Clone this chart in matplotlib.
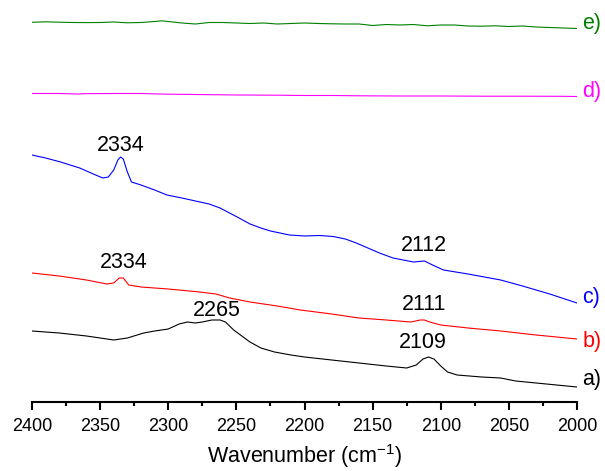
import matplotlib
matplotlib.use("Agg")
import matplotlib.pyplot as plt
from matplotlib.ticker import MultipleLocator

plt.rcParams['font.family'] = ['Liberation Sans', 'DejaVu Sans']
plt.rcParams['mathtext.fontset'] = 'custom'
plt.rcParams['mathtext.rm'] = 'Liberation Sans'
plt.rcParams['mathtext.default'] = 'regular'

# --- data (offset absorbance, arbitrary units) ---
wn_a = [2400, 2380, 2360, 2340, 2330, 2318, 2310, 2300, 2292, 2286, 2280, 2275, 2268, 2262,
        2258, 2252, 2246, 2240, 2232, 2222, 2210, 2200, 2180, 2160, 2140, 2125, 2118, 2113,
        2109, 2105, 2100, 2095, 2088, 2070, 2056, 2045, 2030, 2015, 2000]
abs_a = [71, 69, 66, 62, 64, 69, 71, 73, 78, 80, 79, 80, 82, 82,
         80, 72, 66, 60, 54, 50, 47, 45, 42, 39, 36, 34, 37, 43,
         45, 43, 36, 30, 27, 25, 24, 21, 19, 17, 15]

wn_b = [2400, 2380, 2360, 2345, 2340, 2336, 2333, 2329, 2320, 2300, 2277, 2265, 2255, 2240,
        2220, 2203, 2180, 2160, 2140, 2122, 2115, 2112, 2108, 2100, 2080, 2056, 2030, 2000]
abs_b = [129, 126, 122, 118, 119, 124, 124, 117, 115, 113, 110, 108, 104, 100,
         96, 92, 88, 84, 82, 80, 82, 82, 80, 77, 74, 71, 67, 63]

wn_c = [2400, 2390, 2379, 2365, 2355, 2348, 2344, 2340, 2337, 2335, 2333, 2330, 2327, 2320,
        2310, 2301, 2290, 2280, 2270, 2262, 2255, 2248, 2240, 2232, 2225, 2211, 2200, 2189,
        2179, 2170, 2162, 2145, 2135, 2120, 2112, 2106, 2098, 2080, 2056, 2040, 2020, 2000]
abs_c = [247, 244, 240, 234, 228, 224, 225, 232, 242, 245, 243, 230, 220, 217,
         212, 207, 204, 201, 198, 194, 189, 184, 178, 174, 171, 167, 166, 166.5,
         165.5, 163, 159, 149, 144, 140, 141, 137, 132, 128, 122, 116, 108, 99]

wn_d = [2400, 2380, 2366, 2362, 2350, 2340, 2320, 2300, 2280, 2260, 2250, 2220, 2200, 2180,
        2160, 2130, 2100, 2070, 2040, 2010, 2000]
abs_d = [308.5, 308.5, 308.0, 308.3, 308.4, 308.5, 308.5, 307.8, 307.5, 307.2, 307.0, 306.8,
         306.5, 306.5, 306.2, 306.0, 306.0, 305.8, 305.8, 305.7, 305.5]

wn_e = [2400, 2390, 2380, 2370, 2360, 2350, 2340, 2330, 2320, 2310, 2305, 2300, 2290, 2280,
        2270, 2260, 2250, 2240, 2230, 2220, 2210, 2200, 2190, 2180, 2170, 2160, 2150, 2140,
        2130, 2120, 2110, 2100, 2090, 2080, 2070, 2060, 2050, 2040, 2030, 2020, 2010, 2000]
abs_e = [379.7, 380.2, 379.8, 379.5, 379.4, 379.5, 380.0, 379.2, 379.5, 380.5, 381.2, 380.5,
         379.0, 378.0, 379.5, 379.5, 379.0, 378.5, 379.0, 378.0, 378.5, 379.0, 378.5, 378.2,
         378.0, 378.0, 376.5, 377.5, 377.0, 377.5, 376.2, 377.0, 377.0, 376.0, 375.8, 376.2,
         375.5, 376.0, 375.0, 374.5, 374.0, 373.5]

series = [
    (wn_a, abs_a, 'black', 'a)', 22),
    (wn_b, abs_b, '#ff0000', 'b)', 60),
    (wn_c, abs_c, '#0000ff', 'c)', 104),
    (wn_d, abs_d, '#ff00ff', 'd)', 311),
    (wn_e, abs_e, '#008000', 'e)', 379),
]

peak_labels = ['2334', '2334', '2265', '2112', '2111', '2109']
peak_x = [2335, 2333, 2264, 2112, 2112, 2113]
peak_y = [257, 140, 92, 157, 97, 59]

fig = plt.figure(figsize=(6.05, 4.71), dpi=100)
ax = fig.add_axes([32/605, 69/471, 545/605, 392/471])

for wn, ab, col, lab, ly in series:
    ax.plot(wn, ab, color=col, lw=0.8)
    ax.text(1996, ly, lab, color=col, fontsize=15.5, ha='left', va='center', clip_on=False)

for t, x, y in zip(peak_labels, peak_x, peak_y):
    ax.text(x, y, t, color='black', fontsize=15.5, ha='center', va='center')

ax.set_xlim(2400, 2000)
ax.set_ylim(0, 392)
ax.xaxis.set_major_locator(MultipleLocator(50))
ax.xaxis.set_minor_locator(MultipleLocator(25))
for s in ['top', 'left', 'right']:
    ax.spines[s].set_visible(False)
ax.spines['bottom'].set_linewidth(1.5)
ax.set_yticks([])
ax.tick_params(axis='x', which='major', direction='out', length=6, width=1.5, labelsize=13, pad=5.5)
ax.tick_params(axis='x', which='minor', direction='out', length=3, width=1.5)
ax.set_xlabel('Wavenumber (cm$^{-1}$)', fontsize=15.5, labelpad=5)

fig.savefig('out.png', dpi=100)
